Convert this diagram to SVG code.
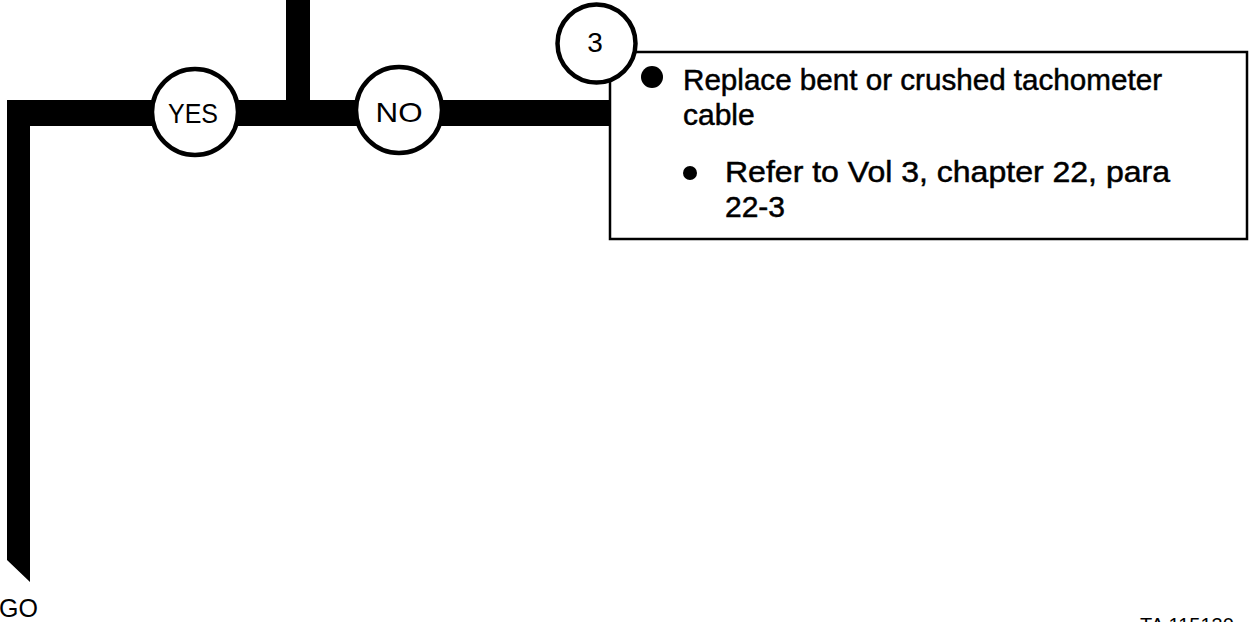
<svg xmlns="http://www.w3.org/2000/svg" width="1249" height="622" viewBox="0 0 1249 622">
<style>
  text { font-family: "Liberation Sans", Arial, sans-serif; fill: #000; }
  .node { fill: #fff; stroke: #000; stroke-width: 4.5; }
  .lbl { font-size: 28px; text-anchor: middle; }
  .body { font-size: 30px; stroke: #000; stroke-width: 0.5; }
  .box { fill: #fff; stroke: #000; stroke-width: 2.5; }
</style>
<g id="connectors">
  <rect x="286" y="0" width="24" height="101" fill="#000"/>
  <path d="M7,100 H610 V126 H30 V582 L7,560 Z" fill="#000"/>
</g>
<g id="action-box">
  <rect class="box" x="610" y="52" width="637" height="187"/>
  <circle cx="652" cy="77" r="11" fill="#000"/>
  <text class="body" x="683" y="90" textLength="479" lengthAdjust="spacingAndGlyphs">Replace bent or crushed tachometer</text>
  <text class="body" x="683" y="125">cable</text>
  <circle cx="690" cy="173" r="7" fill="#000"/>
  <text class="body" x="725" y="182" textLength="445" lengthAdjust="spacingAndGlyphs">Refer to Vol 3, chapter 22, para</text>
  <text class="body" x="725" y="217">22-3</text>
</g>
<g id="step-3">
  <circle class="node" cx="596.5" cy="43.5" r="39" stroke-width="4"/>
  <text class="lbl" x="595" y="52">3</text>
</g>
<g id="yes">
  <circle class="node" cx="195" cy="112" r="43"/>
  <text class="lbl" x="193" y="123" textLength="50" lengthAdjust="spacingAndGlyphs">YES</text>
</g>
<g id="no">
  <circle class="node" cx="399" cy="110" r="43"/>
  <text class="lbl" x="399" y="122" textLength="47" lengthAdjust="spacingAndGlyphs">NO</text>
</g>
<g id="go">
  <text x="-1" y="617" font-size="25">GO</text>
</g>
<text x="1140" y="632" font-size="20">TA 115130</text>
</svg>
